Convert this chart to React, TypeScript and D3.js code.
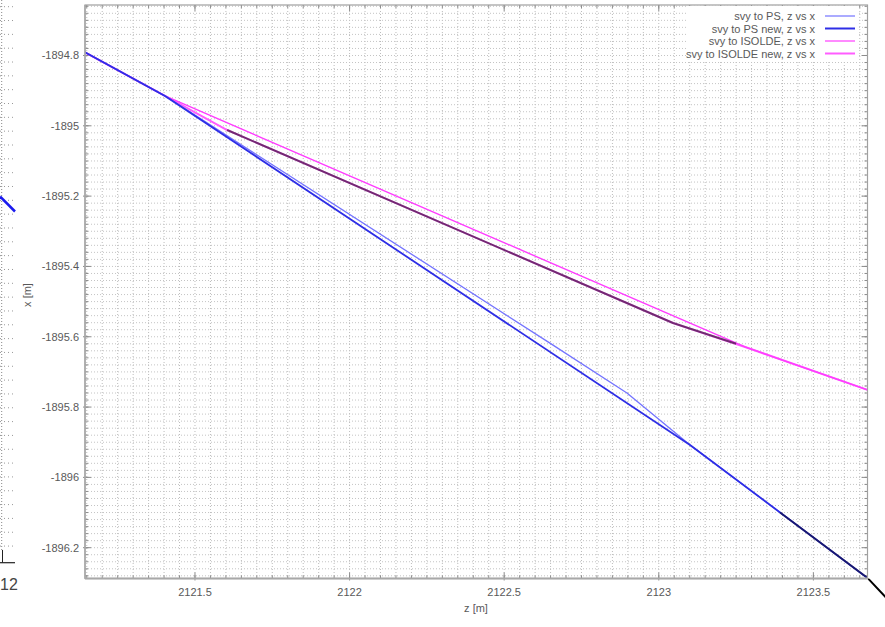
import React from "react";
import * as d3 from "d3";

// ---- data ----
const psZ = [2121.14, 2121.403, 2122.648, 2122.897, 2123.101, 2123.675];
const psX = [-1894.789, -1894.915, -1895.618, -1895.76, -1895.908, -1896.286];
const psNewZ = [2121.14, 2121.403, 2123.101, 2123.675];
const psNewX = [-1894.789, -1894.915, -1895.908, -1896.286];
const isoZ = [2121.14, 2121.403, 2123.279, 2123.675];
const isoX = [-1894.789, -1894.915, -1895.629, -1895.751];
const isoNewZ = [2121.14, 2121.403, 2121.604, 2123.046, 2123.279, 2123.675];
const isoNewX = [-1894.789, -1894.915, -1895.012, -1895.561, -1895.629, -1895.751];
// unlabeled dark reference traces
const refAZ = [2121.604, 2123.046, 2123.25];
const refAX = [-1895.012, -1895.561, -1895.62];
const refBZ = [2123.392, 2123.675, 2123.735];
const refBX = [-1896.1, -1896.286, -1896.342];

const zTicks = [2121.5, 2122, 2122.5, 2123, 2123.5];
const zTickLabels = ["2121.5", "2122", "2122.5", "2123", "2123.5"];
const xTicks = [-1894.8, -1895, -1895.2, -1895.4, -1895.6, -1895.8, -1896, -1896.2];
const xTickLabels = ["-1894.8", "-1895", "-1895.2", "-1895.4", "-1895.6", "-1895.8", "-1896", "-1896.2"];

const seriesNames = ["svy to PS, z vs x", "svy to PS new, z vs x", "svy to ISOLDE, z vs x", "svy to ISOLDE new, z vs x"];
const seriesColors = ["#7474ff", "#2e2ee6", "#ff3cff", "#ff5cff"];
const seriesWidths = [1.3, 1.8, 1.4, 2];

const W = 885, H = 627;
const L = 85, R = 867.5, T = 5, B = 578.5;

export default function App() {
  const xs = d3.scaleLinear().domain([2121.1443, 2123.675]).range([L, R]);
  const ys = d3.scaleLinear().domain([-1894.6564, -1896.2876]).range([T, B]);
  const line = d3.line<[number, number]>().x(d => xs(d[0])).y(d => ys(d[1]));
  const mk = (z: number[], x: number[]) => line(z.map((v, i) => [v, x[i]] as [number, number])) || "";

  const zMinor = d3.range(0, 51).map(i => 2121.15 + i * 0.05).filter(v => xs(v) > L + 0.5 && xs(v) < R - 0.5);
  const xMinor = d3.range(0, 82).map(i => -1894.66 - i * 0.02).filter(v => ys(v) > T + 0.5 && ys(v) < B - 0.5);

  const series = [
    [psZ, psX], [psNewZ, psNewX], [isoZ, isoX], [isoNewZ, isoNewX],
  ];
  const drawOrder = [3, 2, 0, 1];

  const remnantRows = d3.range(0, 40).map(i => 6.7 + i * 13.83).filter(v => v < 553);
  const font = "Liberation Sans, Arial, sans-serif";

  return (
    <svg width={W} height={H} style={{ position: "fixed", left: 0, top: 0, background: "#fff" }} fontFamily={font}>
      <defs>
        <clipPath id="plot"><rect x={L} y={T} width={R - L} height={B - T} /></clipPath>
        <clipPath id="outside"><rect x={R} y={B} width={W - R} height={H - B} /></clipPath>
      </defs>
      <rect x={0} y={0} width={W} height={H} fill="#fff" />

      {/* remnant of neighbouring chart at left edge */}
      <line x1={1.7} y1={0} x2={1.7} y2={550} stroke="#888" strokeWidth={1} strokeDasharray="1,2" />
      {remnantRows.map((y, i) => (
        <line key={"rr" + i} x1={0} x2={15} y1={y} y2={y} stroke="#999" strokeWidth={1} strokeDasharray="1,3" />
      ))}
      <line x1={0} y1={196.5} x2={15} y2={211.5} stroke="#1a1aee" strokeWidth={2.5} />
      <line x1={2.5} y1={550} x2={2.5} y2={562.7} stroke="#222" strokeWidth={1} />
      <line x1={0} y1={562.7} x2={15} y2={562.7} stroke="#222" strokeWidth={1.2} />
      <text x={0} y={590} textAnchor="start" fontSize={16} fill="#444" fontFamily={font}>12</text>

      {/* grid */}
      <g>
        {zMinor.map((v, i) => (
          <line key={"gz" + i} x1={xs(v)} x2={xs(v)} y1={T} y2={B} stroke="#bcbcbc" strokeWidth={1} strokeDasharray="1,2" />
        ))}
        {xMinor.map((v, i) => (
          <line key={"gx" + i} x1={L} x2={R} y1={ys(v)} y2={ys(v)} stroke="#c4c4c4" strokeWidth={1} strokeDasharray="1,2" />
        ))}
      </g>

      {/* ticks */}
      <g stroke="#8c8c8c" strokeWidth={1}>
        {zMinor.map((v, i) => (
          <g key={"tz" + i}>
            <line x1={xs(v)} x2={xs(v)} y1={B} y2={B - 3} />
            <line x1={xs(v)} x2={xs(v)} y1={T} y2={T + 3} />
          </g>
        ))}
        {xMinor.map((v, i) => (
          <g key={"tx" + i}>
            <line x1={L} x2={L + 3} y1={ys(v)} y2={ys(v)} />
            <line x1={R} x2={R - 3} y1={ys(v)} y2={ys(v)} />
          </g>
        ))}
        {zTicks.map((v, i) => (
          <g key={"Tz" + i}>
            <line x1={xs(v)} x2={xs(v)} y1={B + 2} y2={B - 6} />
            <line x1={xs(v)} x2={xs(v)} y1={T} y2={T + 6} />
          </g>
        ))}
        {xTicks.map((v, i) => (
          <g key={"Tx" + i}>
            <line x1={L - 2} x2={L + 6} y1={ys(v)} y2={ys(v)} />
            <line x1={R} x2={R - 6} y1={ys(v)} y2={ys(v)} />
          </g>
        ))}
      </g>

      {/* series */}
      <g clipPath="url(#plot)" fill="none" strokeLinejoin="round">
        {drawOrder.map(si => (
          <path key={"s" + si} d={mk(series[si][0], series[si][1])} stroke={seriesColors[si]} strokeWidth={seriesWidths[si]} />
        ))}
        <path d={mk(refAZ, refAX)} stroke="#000" strokeOpacity={0.55} strokeWidth={2} />
        <path d={mk(refBZ, refBX)} stroke="#000" strokeOpacity={0.5} strokeWidth={2} />
      </g>
      <g clipPath="url(#outside)" fill="none">
        <path d={mk(refBZ, refBX)} stroke="#000" strokeWidth={2} />
      </g>

      {/* frame */}
      <rect x={L} y={T} width={R - L} height={B - T} fill="none" stroke="#a0a0a0" strokeWidth={1.2} />
      <line x1={L} x2={R} y1={B} y2={B} stroke="#a8a8a8" strokeWidth={2} />
      <line x1={L} x2={L} y1={T} y2={B} stroke="#a8a8a8" strokeWidth={1.5} />

      {/* tick labels */}
      <g fontSize={11} fill="#595959">
        {zTicks.map((v, i) => (
          <text key={"lz" + i} x={xs(v)} y={595.5} textAnchor="middle">{zTickLabels[i]}</text>
        ))}
        {xTicks.map((v, i) => (
          <text key={"lx" + i} x={79} y={ys(v) + 4} textAnchor="end">{xTickLabels[i]}</text>
        ))}
      </g>
      <text x={476} y={612} textAnchor="middle" fontSize={11} fill="#595959">z [m]</text>
      <text transform="translate(31,295) rotate(-90)" textAnchor="middle" fontSize={11} fill="#595959">x [m]</text>

      {/* legend */}
      <rect x={688} y={T + 1} width={170} height={55} fill="#fff" />
      {seriesNames.map((n, i) => {
        const y = 16 + i * 12.5;
        return (
          <g key={"lg" + i}>
            <text x={815} y={y + 4} textAnchor="end" fontSize={11} fill="#595959">{n}</text>
            <line x1={825} x2={855} y1={y} y2={y} stroke={seriesColors[i]} strokeWidth={i % 2 === 1 ? 2 : 1.2} />
          </g>
        );
      })}
    </svg>
  );
}
